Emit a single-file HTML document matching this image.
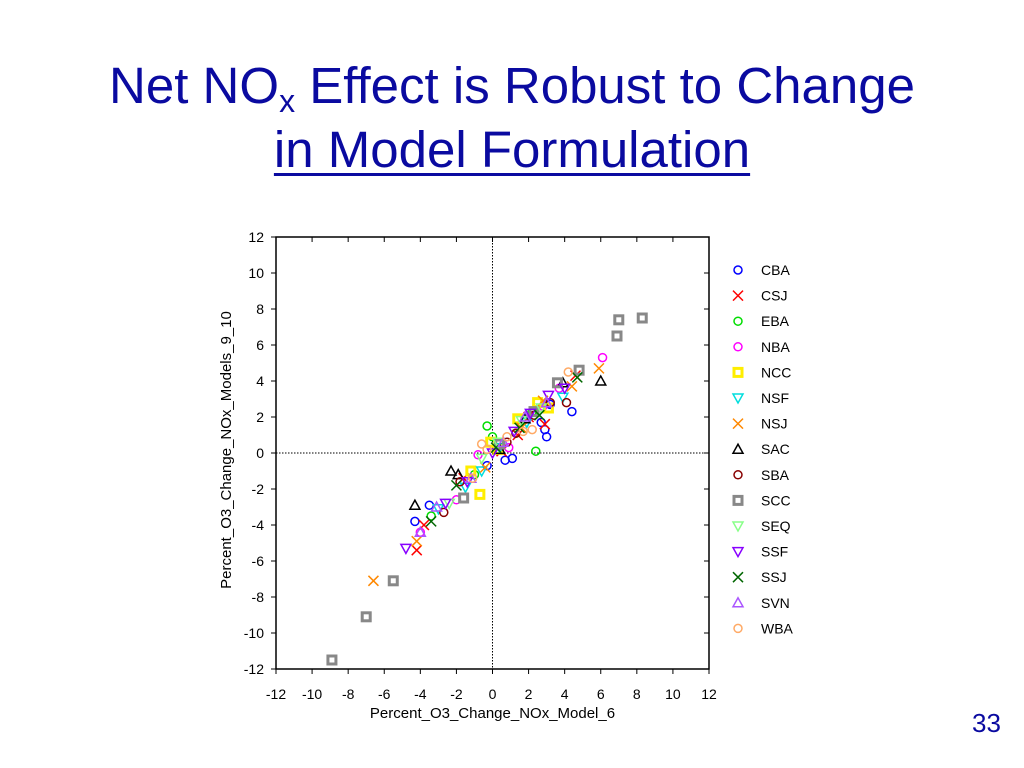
<!DOCTYPE html>
<html><head><meta charset="utf-8"><style>
body{margin:0;width:1024px;height:768px;background:#fff;overflow:hidden;font-family:"Liberation Sans",sans-serif;}
.t{position:absolute;left:0;width:1024px;text-align:center;color:#0a0aa0;font-size:51px;}
</style></head><body>
<div class="t" style="top:56px">Net NO<sub style="font-size:32px;vertical-align:-9px">x</sub> Effect is Robust to Change</div>
<div class="t" style="top:120px"><span style="text-decoration:underline;text-underline-offset:6px;text-decoration-thickness:3px">in Model Formulation</span></div>
<div style="position:absolute;left:972px;top:708px;font-size:26px;color:#0a0aa0">33</div>
<svg id="chart" width="1024" height="768" style="position:absolute;left:0;top:0" font-family="Liberation Sans, sans-serif"></svg>
<script>
const ticks=[-12,-10,-8,-6,-4,-2,0,2,4,6,8,10,12];
const names=["CBA","CSJ","EBA","NBA","NCC","NSF","NSJ","SAC","SBA","SCC","SEQ","SSF","SSJ","SVN","WBA"];
const colors=["#0000ff","#ff0000","#00dd00","#ff00ff","#ffee00","#00dddd","#ff8800","#000000","#880000","#888888","#88ff88","#8800ff","#006600","#aa55ff","#ffaa66"];
const shapes=["o","x","o","o","s","v","x","t","o","s","v","v","x","t","o"];
const dataX=[
[-4.3,-3.5,0.7,2.7,4.4,3.0,1.1,-0.3,2.9,3.2],
[-4.2,-3.8,-1.6,0.5,2.0,2.9,4.6,1.4],
[-3.4,-1.0,-0.3,1.3,2.4,0.0,2.2],
[-4.0,-2.0,-0.8,0.9,3.7,6.1,2.8],
[-1.2,-0.7,1.4,2.5,3.1,-0.1,0.3],
[-3.0,-1.5,0.4,1.9,3.9,-0.6],
[-6.6,-4.2,-0.4,2.8,4.4,5.9,1.6],
[-4.3,-2.3,-1.9,1.8,3.9,6.0,0.4],
[-2.7,-1.8,1.3,2.3,3.2,4.1,0.8],
[-8.9,-7.0,-5.5,-1.6,0.4,2.3,3.6,4.8,6.9,7.0,8.3],
[-2.4,-0.6,0.3,1.6,2.7],
[-4.8,-2.6,-1.4,1.2,2.1,3.1,4.0,0.0],
[-3.4,-2.0,0.2,1.5,2.6,4.7],
[-4.0,-3.1,-1.2,0.6,1.8,3.0],
[-1.1,-0.3,0.8,1.7,2.2,4.2,-0.6]];
const dataY=[
[-3.8,-2.9,-0.4,1.7,2.3,0.9,-0.3,-0.7,1.3,2.7],
[-5.4,-4.0,-1.4,0.1,2.0,1.6,4.3,1.0],
[-3.5,-1.2,1.5,1.1,0.1,0.9,2.3],
[-4.4,-2.6,-0.1,0.3,3.6,5.3,2.6],
[-1.0,-2.3,1.9,2.8,2.5,0.6,0.2],
[-3.1,-1.9,0.3,1.7,3.1,-1.0],
[-7.1,-4.9,-0.8,2.9,3.7,4.7,1.4],
[-2.9,-1.0,-1.2,1.9,3.9,4.0,0.2],
[-3.3,-1.6,1.1,2.1,2.8,2.8,0.6],
[-11.5,-9.1,-7.1,-2.5,0.5,2.3,3.9,4.6,6.5,7.4,7.5],
[-2.8,-0.3,0.6,1.8,2.5],
[-5.3,-2.8,-1.6,1.2,2.2,3.2,3.6,0.0],
[-3.8,-1.8,0.3,1.4,2.1,4.2],
[-4.4,-3.0,-1.4,0.6,2.0,2.8],
[-1.4,0.2,0.9,1.2,1.3,4.5,0.5]];
const svg=document.getElementById('chart');
const NS="http://www.w3.org/2000/svg";
const X0=276,X1=709,Y0=669,Y1=237;
function sx(v){return X0+(v+12)/24*(X1-X0);}
function sy(v){return Y0-(v+12)/24*(Y0-Y1);}
function mk(t,a,p){const e=document.createElementNS(NS,t);for(const k in a)e.setAttribute(k,a[k]);(p||svg).appendChild(e);return e;}
let box=mk('rect',{x:X0,y:Y1,width:X1-X0,height:Y0-Y1,fill:'none',stroke:'#000','stroke-width':1.5});


let zx=mk('line',{x1:sx(0),x2:sx(0),y1:Y1,y2:Y0,stroke:'#000','stroke-dasharray':'1.5,1.5'});


let zy=mk('line',{x1:X0,x2:X1,y1:sy(0),y2:sy(0),stroke:'#000','stroke-dasharray':'1.5,1.5'});


ticks.forEach(v=>{
 mk('line',{x1:sx(v),x2:sx(v),y1:Y0,y2:Y0+5,stroke:'#000'});
 mk('line',{x1:sx(v),x2:sx(v),y1:Y1,y2:Y1+5,stroke:'#000'});
 mk('line',{x1:X0-5,x2:X0,y1:sy(v),y2:sy(v),stroke:'#000'});
 mk('line',{x1:X1-5,x2:X1,y1:sy(v),y2:sy(v),stroke:'#000'});
 let tx=mk('text',{x:sx(v),y:Y0+30,'font-size':14,'text-anchor':'middle'});tx.textContent=v;
 
 
 let ty=mk('text',{x:X0-12,y:sy(v)+5,'font-size':14,'text-anchor':'end'});ty.textContent=v;
 
 
});
let xt=mk('text',{x:sx(0),y:Y0+49,'font-size':15,'text-anchor':'middle'});xt.textContent='Percent_O3_Change_NOx_Model_6';


let yt=mk('text',{x:0,y:0,'font-size':15,'text-anchor':'middle',transform:`translate(231,${sy(0)-3}) rotate(-90)`});yt.textContent='Percent_O3_Change_NOx_Models_9_10';


function marker(s,x,y,c){
 const g=mk('g',{stroke:c,fill:'none','stroke-width':1.5});
 if(s=='o')mk('circle',{cx:x,cy:y,r:4},g);
 else if(s=='x'){mk('line',{x1:x-5,y1:y-5,x2:x+5,y2:y+5},g);mk('line',{x1:x-5,y1:y+5,x2:x+5,y2:y-5},g);}
 else if(s=='s'){g.setAttribute('stroke-width',3);mk('rect',{x:x-4,y:y-4,width:8,height:8},g);}
 else if(s=='v')mk('polygon',{points:`${x-5},${y-4} ${x+5},${y-4} ${x},${y+5}`},g);
 else mk('polygon',{points:`${x-5},${y+4} ${x+5},${y+4} ${x},${y-5}`},g);
 return g;
}
names.forEach((n,i)=>{
 dataX[i].forEach((vx,j)=>{
  const m=marker(shapes[i],sx(vx),sy(dataY[i][j]),colors[i]);
  
  
 });
 const ly=270+i*25.6;
 const lm=marker(shapes[i],738,ly,colors[i]);
 
 
 const lt=mk('text',{x:761,y:ly+5,'font-size':14});lt.textContent=n;
 
 
});
</script>
</body></html>
